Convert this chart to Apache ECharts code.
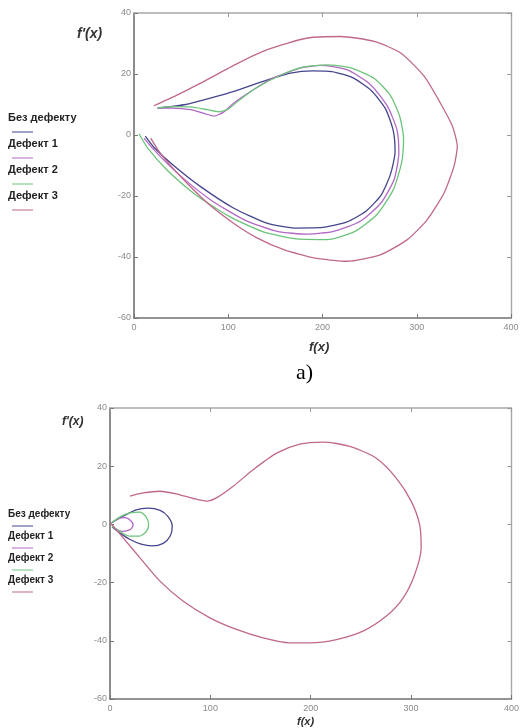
<!DOCTYPE html>
<html>
<head>
<meta charset="utf-8">
<script src="https://cdn.jsdelivr.net/npm/echarts@6/dist/echarts.min.js"></script>
<style>
  html, body { margin: 0; padding: 0; background: #fff; }
  #chart { width: 522px; height: 728px; }
</style>
</head>
<body>
<div id="chart"></div>
<script>
// Phase portraits f'(x) vs f(x) for the undamaged case and three defect cases.
const seriesNames = ['Без дефекту', 'Дефект 1', 'Дефект 2', 'Дефект 3'];
const seriesColors = ['#45458e', '#b268c4', '#6cc47a', '#c0688c'];

// Axis ranges shared by both panels
const xRange = [0, 400, 100];
const yRange = [-60, 40, 20];

// Panel a) curves, [f(x), f'(x)] pairs
const topNoDefect = [
  [12, -0.4], [21, -4], [42, -10], [71, -17], [106, -24], [141, -28.9], [170, -30.5],
  [200, -30.3], [226, -28.5], [246, -25], [262, -19.8], [272, -13], [277, -5.5],
  [275, 1.5], [267, 8.5], [252, 14.5], [232, 18.8], [210, 20.8], [190, 21],
  [166, 20.3], [141, 18], [106, 14.3], [80, 12], [55, 10], [25, 8.8]
];
const topDefect1 = [
  [10.6, -1], [21, -4.8], [46, -12.5], [81, -21.2], [117, -27.8], [152, -31.6],
  [184, -32.5], [212, -31.6], [240, -28.3], [262, -22.3], [276, -14.6], [281, -5.9],
  [279, 1.7], [269, 9.4], [251, 16.5], [226, 21.4], [198, 22.8], [177, 22],
  [148, 18.7], [127, 14.9], [106, 10.5], [95, 7.5], [85, 6.2], [75, 7],
  [60, 8.3], [40, 8.8], [25, 8.8]
];
const topDefect2 = [
  [5.3, 0.4], [15, -4.5], [35, -11.5], [65, -19.5], [100, -26.5], [135, -31.5],
  [170, -34], [205, -34.3], [235, -31.5], [258, -26], [275, -18], [284, -9],
  [286, -1], [282, 6], [272, 13], [255, 18.5], [230, 22], [205, 23], [180, 22.3],
  [155, 19.5], [130, 15.5], [112, 11.5], [100, 8.5], [90, 7.6], [78, 8.3],
  [60, 9.2], [40, 9.3], [25, 8.9]
];
const topDefect3 = [
  [17.7, -1], [28, -6], [49.5, -13.6], [78, -22.3], [106, -29], [131, -33.8],
  [159, -37.6], [191, -40.3], [226, -41.4], [262, -39.2], [290, -34.3], [311, -27.8],
  [329, -19], [339.5, -10.3], [343, -3.7], [338, 2.8], [325, 10.5], [308, 19.2],
  [283, 26.9], [255, 30.7], [219, 32.3], [184, 31.8], [141.5, 28], [110, 23.5],
  [70.7, 17], [45, 13], [21, 9.6]
];

// Panel b) curves
const bottomNoDefect = [
  [1.5, 0.5], [13, 2.8], [26, 5], [38, 5.6], [50, 4.8], [58, 2.6], [62, -0.6],
  [60, -4], [53, -6.5], [42, -7.4], [31, -6.8], [20, -5.2], [10, -3], [2, -0.8]
];
const bottomDefect1 = [
  [2, 0.6], [8, 2], [15, 2.3], [21, 1.2], [23, -0.3], [20, -1.8], [12, -2.4], [3, -1]
];
const bottomDefect2 = [
  [1, 0.4], [10, 2.6], [20, 4], [30, 4.2], [36, 2.6], [38.5, 0], [36, -2.5],
  [29, -4], [19, -4], [10, -2.5], [2, -0.6]
];
const bottomDefect3 = [
  [19.9, 9.7], [33, 10.8], [49.8, 11.4], [66, 10.5], [83, 8.9], [96, 8], [106, 9.1],
  [122.7, 13.1], [142.6, 18.8], [166, 24.5], [189, 27.6], [212, 28.3], [239, 26.8],
  [265, 22.8], [285, 16], [300, 8], [308.5, -0.1], [310, -8.1], [303.5, -17.3],
  [292, -25.3], [275, -31.6], [252, -36.7], [225.6, -39.6], [199, -40.7], [179, -40.7],
  [152.6, -39], [126, -36.1], [99.5, -32.1], [73, -26.4], [49.8, -19.5], [29.9, -11.5],
  [13.3, -4.7], [3.3, -0.6], [0, 0.5]
];

const topData = [topNoDefect, topDefect1, topDefect2, topDefect3];
const bottomData = [bottomNoDefect, bottomDefect1, bottomDefect2, bottomDefect3];

const labelStyle = { color: '#8a8a8a', fontSize: 9, fontFamily: 'Liberation Sans' };

function mainX(gridIndex) {
  return {
    type: 'value', gridIndex, min: xRange[0], max: xRange[1], interval: xRange[2],
    axisLine: { show: true, onZero: false, lineStyle: { color: '#707070', width: 1.6 } },
    axisTick: { show: true, inside: true, length: 4, lineStyle: { color: '#777' } },
    axisLabel: Object.assign({ margin: 5 }, labelStyle),
    splitLine: { show: false }
  };
}
function frameX(gridIndex) {
  return {
    type: 'value', gridIndex, position: 'top', min: xRange[0], max: xRange[1], interval: xRange[2],
    axisLine: { show: true, onZero: false, lineStyle: { color: '#a8a8a8', width: 1.6 } },
    axisTick: { show: true, inside: true, length: 4, lineStyle: { color: '#999' } },
    axisLabel: { show: false }, splitLine: { show: false }
  };
}
function mainY(gridIndex) {
  return {
    type: 'value', gridIndex, min: yRange[0], max: yRange[1], interval: yRange[2],
    axisLine: { show: true, onZero: false, lineStyle: { color: '#707070', width: 1.6 } },
    axisTick: { show: true, inside: true, length: 4, lineStyle: { color: '#777' } },
    axisLabel: Object.assign({ margin: 3 }, labelStyle),
    splitLine: { show: false }
  };
}
function frameY(gridIndex) {
  return {
    type: 'value', gridIndex, position: 'right', min: yRange[0], max: yRange[1], interval: yRange[2],
    axisLine: { show: true, onZero: false, lineStyle: { color: '#a8a8a8', width: 1.4 } },
    axisTick: { show: true, inside: true, length: 4, lineStyle: { color: '#999' } },
    axisLabel: { show: false }, splitLine: { show: false }
  };
}

const series = [];
topData.forEach((d, i) => series.push({
  name: seriesNames[i], type: 'line', xAxisIndex: 0, yAxisIndex: 0, data: d,
  showSymbol: false, smooth: 0.2, lineStyle: { color: seriesColors[i], width: 1.3 }, silent: true
}));
bottomData.forEach((d, i) => series.push({
  name: seriesNames[i], type: 'line', xAxisIndex: 2, yAxisIndex: 2, data: d,
  showSymbol: false, smooth: 0.25, lineStyle: { color: seriesColors[i], width: 1.3 }, silent: true
}));

// Legend block: label with a short line sample below it
function legendBlock(x, yStart, step, fontSize, lineGap) {
  const els = [];
  seriesNames.forEach((n, i) => {
    const y = yStart + i * step;
    els.push({ type: 'text', left: x, top: y - fontSize / 2 - 1,
      style: { text: n, fill: '#222', font: 'bold ' + fontSize + 'px "Liberation Sans"' } });
    els.push({ type: 'line', shape: { x1: x + 4, y1: y + lineGap, x2: x + 25, y2: y + lineGap },
      style: { stroke: seriesColors[i], lineWidth: 1 } });
  });
  return els;
}

const graphics = [].concat(
  legendBlock(8, 119, 26, 11, 13),
  legendBlock(8, 515, 22, 10, 11),
  [
    { type: 'text', left: 77, top: 27, style: { text: "f'(x)", fill: '#333', font: 'italic bold 14px "Liberation Sans"' } },
    { type: 'text', left: 309, top: 341, style: { text: 'f(x)', fill: '#333', font: 'italic bold 13px "Liberation Sans"' } },
    { type: 'text', left: 296, top: 362, style: { text: 'a)', fill: '#000', font: '22px "Liberation Serif"' } },
    { type: 'text', left: 62, top: 416, style: { text: "f'(x)", fill: '#333', font: 'italic bold 12px "Liberation Sans"' } },
    { type: 'text', left: 297, top: 716, style: { text: 'f(x)', fill: '#333', font: 'italic bold 11px "Liberation Sans"' } }
  ]
);

const chart = echarts.init(document.getElementById('chart'), null, { renderer: 'canvas' });
chart.setOption({
  animation: false,
  backgroundColor: '#fff',
  grid: [
    { left: 134, top: 13, width: 377, height: 305 },
    { left: 110, top: 408, width: 402, height: 291 }
  ],
  xAxis: [mainX(0), frameX(0), mainX(1), frameX(1)],
  yAxis: [mainY(0), frameY(0), mainY(1), frameY(1)],
  series,
  graphic: graphics
});
</script>
</body>
</html>
